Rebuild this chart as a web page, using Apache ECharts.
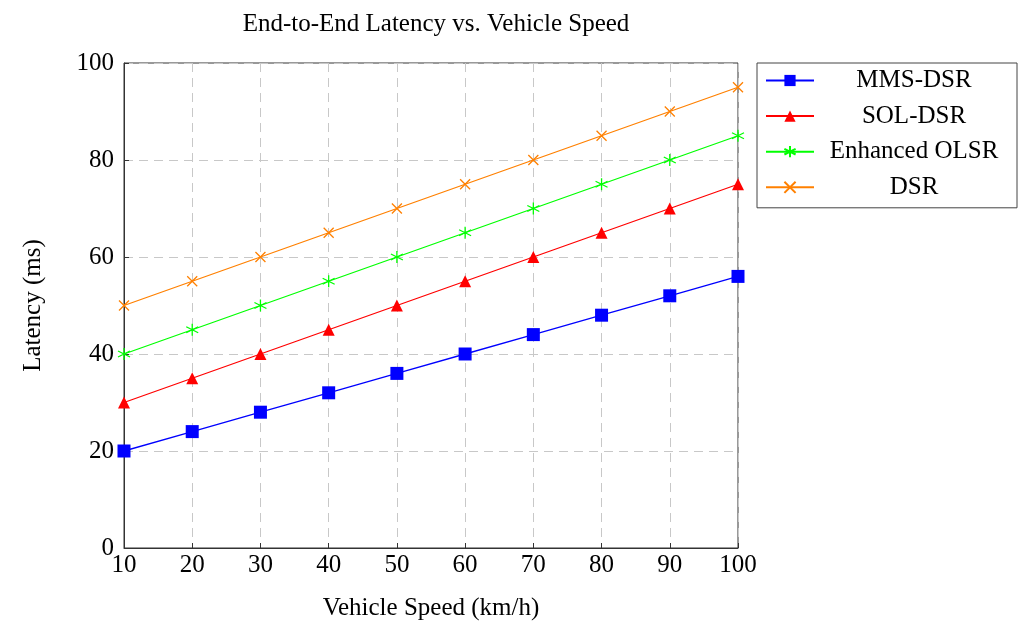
<!DOCTYPE html>
<html><head><meta charset="utf-8">
<script src="https://cdn.jsdelivr.net/npm/echarts@6/dist/echarts.min.js"></script>
<style>html,body{margin:0;padding:0;background:#fff}#c{width:1024px;height:626px}</style>
</head><body><div id="c"></div>
<script>
const speeds = [10, 20, 30, 40, 50, 60, 70, 80, 90, 100];
const mmsDsr = [20, 24, 28, 32, 36, 40, 44, 48, 52, 56];
const solDsr = [30, 35, 40, 45, 50, 55, 60, 65, 70, 75];
const enhancedOlsr = [40, 45, 50, 55, 60, 65, 70, 75, 80, 85];
const dsr = [50, 55, 60, 65, 70, 75, 80, 85, 90, 95];
const seriesNames = ['MMS-DSR', 'SOL-DSR', 'Enhanced OLSR', 'DSR'];

const FONT = 'Liberation Serif';
const FS = 25;
const star = 'path://M0,-10L0,10M-8.66,-5L8.66,5M-8.66,5L8.66,-5';
const cross = 'path://M-7,-7L7,7M-7,7L7,-7';
function pts(vals){ return speeds.map((s,i)=>[s, vals[i]]); }

const chart = echarts.init(document.getElementById('c'));
chart.setOption({
  animation: false,
  textStyle: {fontFamily: FONT},
  title: {text: 'End-to-End Latency vs. Vehicle Speed', left: 431, textAlign: 'center', top: 7,
    textStyle: {fontFamily: FONT, fontSize: FS, fontWeight: 'normal', color: '#000'}},
  grid: {left: 124, right: 286, top: 63, bottom: 78, show: true, borderColor: '#333', borderWidth: 1},
  legend: {
    orient: 'vertical', left: 757, top: 63,
    backgroundColor: '#fff', borderColor: '#444', borderWidth: 1,
    padding: [5, 8, 8, 8], itemWidth: 48, itemHeight: 14, itemGap: 10.6,
    formatter: '{a|{name}}',
    textStyle: {fontFamily: FONT, fontSize: FS, color: '#000',
      rich: {a: {width: 190, lineHeight: 26, align: 'center', fontFamily: FONT, fontSize: FS, color: '#000'}}},
    data: seriesNames
  },
  xAxis: {type: 'value', min: 10, max: 100, interval: 10,
    name: 'Vehicle Speed (km/h)', nameLocation: 'middle', nameGap: 48,
    nameTextStyle: {fontFamily: FONT, fontSize: FS, color: '#000'},
    axisLine: {show: true, lineStyle: {color: '#333'}},
    axisTick: {show: true, inside: true, length: 5, lineStyle: {color: '#333'}},
    axisLabel: {fontFamily: FONT, fontSize: FS, color: '#000', margin: 5},
    splitLine: {show: true, lineStyle: {color: '#c8c8c8', type: [9, 6], width: 1}}},
  yAxis: {type: 'value', min: 0, max: 100, interval: 20,
    name: 'Latency (ms)', nameLocation: 'middle', nameGap: 78, nameRotate: 90,
    nameTextStyle: {fontFamily: FONT, fontSize: FS, color: '#000'},
    axisLine: {show: true, lineStyle: {color: '#333'}},
    axisTick: {show: true, inside: true, length: 5, lineStyle: {color: '#333'}},
    axisLabel: {fontFamily: FONT, fontSize: FS, color: '#000', margin: 10},
    splitLine: {show: true, lineStyle: {color: '#c8c8c8', type: [9, 6], width: 1}}},
  series: [
    {name: seriesNames[0], type: 'line', data: pts(mmsDsr), symbol: 'rect', symbolSize: 13,
      lineStyle: {color: '#0000ff', width: 1.3}, itemStyle: {color: '#0000ff'}},
    {name: seriesNames[1], type: 'line', data: pts(solDsr), symbol: 'triangle', symbolSize: 12,
      lineStyle: {color: '#ff0000', width: 1.3}, itemStyle: {color: '#ff0000'}},
    {name: seriesNames[2], type: 'line', data: pts(enhancedOlsr), symbol: star, symbolSize: 12,
      lineStyle: {color: '#00ff00', width: 1.3}, itemStyle: {color: '#00ff00', borderColor: '#00ff00', borderWidth: 1.3}},
    {name: seriesNames[3], type: 'line', data: pts(dsr), symbol: cross, symbolSize: 10,
      lineStyle: {color: '#ff8000', width: 1.3}, itemStyle: {color: '#ff8000', borderColor: '#ff8000', borderWidth: 1.3}}
  ]
});
</script></body></html>
